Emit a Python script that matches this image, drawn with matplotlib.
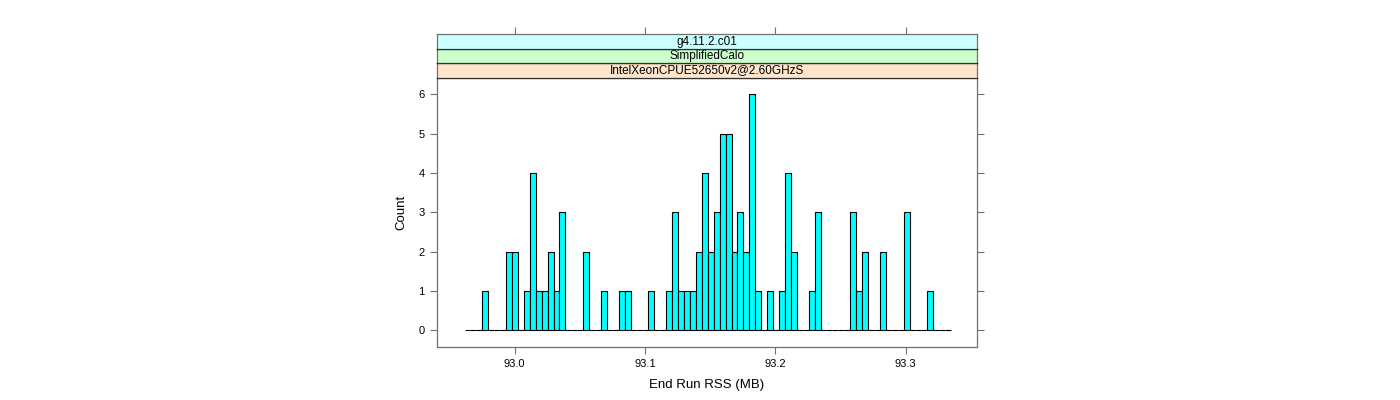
import numpy as np
import matplotlib
matplotlib.use("Agg")
import matplotlib.pyplot as plt

plt.rcParams['font.family'] = ['Liberation Sans', 'DejaVu Sans']

# histogram
bin_start = 92.9617
bin_width = 0.004549
counts = [0, 0, 0, 1, 0, 0, 0, 2, 2, 0,
          1, 4, 1, 1, 2, 1, 3, 0, 0, 0,
          2, 0, 0, 1, 0, 0, 1, 1, 0, 0,
          0, 1, 0, 0, 1, 3, 1, 1, 1, 2,
          4, 2, 3, 5, 5, 2, 3, 2, 6, 1,
          0, 1, 0, 1, 4, 2, 0, 0, 1, 3,
          0, 0, 0, 0, 0, 3, 1, 2, 0, 0,
          2, 0, 0, 0, 3, 0, 0, 0, 1, 0,
          0, 0]
strips = ["IntelXeonCPUE52650v2@2.60GHzS", "SimplifiedCalo", "g4.11.2.c01"]
strip_colors = ["#FFE5CC", "#CCFFCC", "#CCFFFF"]
xticks = [93.0, 93.1, 93.2, 93.3]
yticks = [0, 1, 2, 3, 4, 5, 6]

edges = bin_start + bin_width * np.arange(len(counts) + 1)
xlim = (92.9408, 93.3544)
frame_col = "#707070"

W, H = 1400, 400
fig = plt.figure(figsize=(14, 4), dpi=100)

left, right = 437.3, 976.7
p_top, p_bot = 77.7, 346.7
ax = fig.add_axes([left / W, 1 - p_bot / H, (right - left) / W, (p_bot - p_top) / H])
ax.bar(edges[:-1], counts, width=bin_width, align='edge',
       color="#00FFFF", edgecolor="black", linewidth=0.8)
ax.set_xlim(*xlim)
ax.set_ylim(-0.42, 6.42)
ax.set_xticks(xticks)
ax.set_xticklabels(["%.1f" % t for t in xticks])
ax.set_yticks(yticks)
ax.tick_params(axis='both', direction='out', length=5, width=0.8, color=frame_col,
               labelsize=8, right=True, pad=4)
for s in ax.spines.values():
    s.set_color(frame_col)
    s.set_linewidth(0.9)
ax.set_xlabel("End Run RSS (MB)", fontsize=9.5, labelpad=7)
ax.set_ylabel("Count", fontsize=9.5, labelpad=8)

# strips above the panel
sh = (p_top - 34.3) / len(strips)
for i, (lab, col) in enumerate(zip(strips, strip_colors)):
    b = p_top - (i + 1) * sh
    sax = fig.add_axes([left / W, 1 - (b + sh) / H, (right - left) / W, sh / H])
    sax.set_facecolor(col)
    sax.set_xlim(*xlim)
    sax.set_ylim(0, 1)
    sax.text(0.5, 0.5, lab, ha='center', va='center', fontsize=8.5,
             transform=sax.transAxes)
    for s in sax.spines.values():
        s.set_color("#303030")
        s.set_linewidth(0.9)
    sax.spines['left'].set_color(frame_col)
    sax.spines['right'].set_color(frame_col)
    if i == len(strips) - 1:
        sax.spines['top'].set_color(frame_col)
        sax.xaxis.tick_top()
        sax.set_xticks(xticks)
        sax.set_xticklabels([])
        sax.tick_params(axis='x', direction='out', length=5, width=0.8, color=frame_col)
        sax.set_yticks([])
    else:
        sax.set_xticks([])
        sax.set_yticks([])

fig.savefig("out.png", dpi=100)
